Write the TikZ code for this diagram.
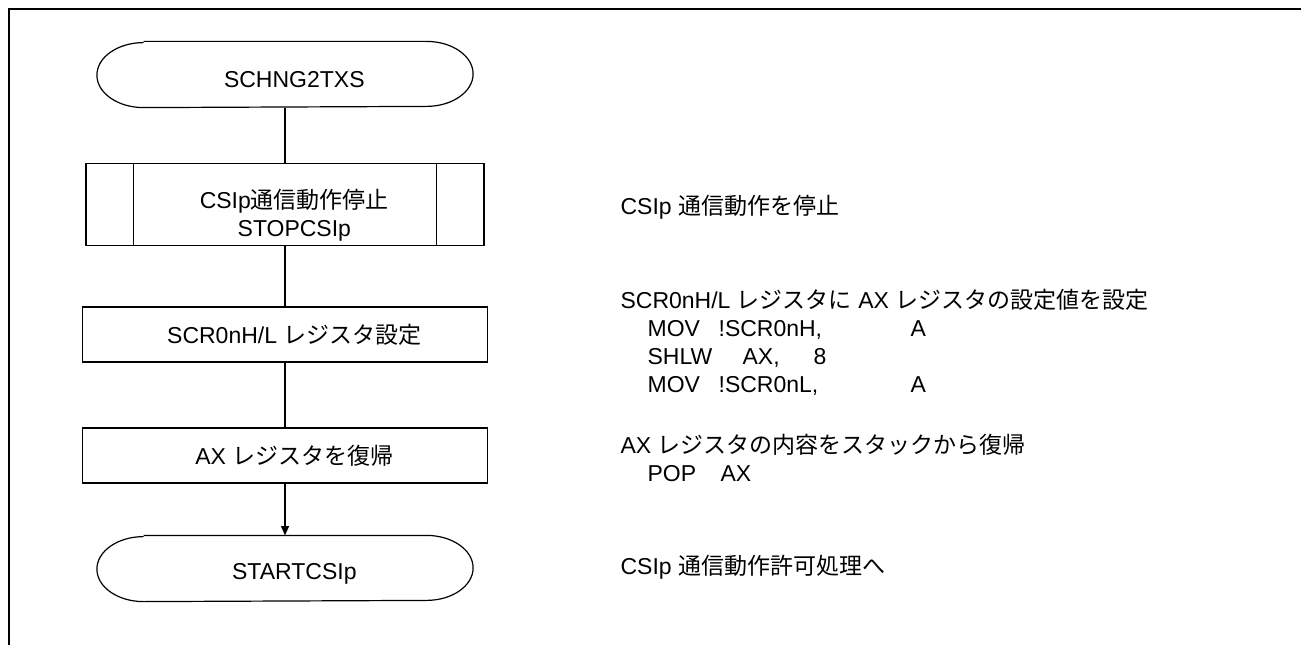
\documentclass[tikz,border=0pt]{standalone}
\usepackage{fontspec}
\setmainfont{Liberation Sans}
\newfontfamily\jpfont{Noto Sans CJK JP}
\newcommand\ja[1]{{\jpfont #1}}
\newcommand\txtshift{\hspace*{14pt}}
\newcommand\tabcol[2]{\makebox[#1][l]{#2}}
\usetikzlibrary{arrows.meta}

\begin{document}
\begin{tikzpicture}[
        x=0.75pt, y=-0.75pt,
        font=\fontsize{17.25}{21}\selectfont,
        line width=0.9pt,
        terminal/.style={minimum width=281.25pt, minimum height=48.75pt, align=center},
        process/.style={draw, minimum width=303.75pt, minimum height=41.25pt, align=center},
        subproc/.style={draw, minimum width=298.5pt, minimum height=60.75pt, align=center},
        comment/.style={anchor=west, align=left, inner sep=0pt},
        flow/.style={draw},
        frame/.style={draw, line width=1.5pt}
    ]
    \useasboundingbox (0,0) rectangle (1301,645);
    \draw[frame] (1301,9) -- (9,9) -- (9,645);

    % flow chart
    \node[terminal] (start) at (285,74.5) {\txtshift\rule{0pt}{20pt}SCHNG2TXS};
    \node[subproc] (stopcsi) at (285,204.5) {\txtshift\rule{0pt}{30pt}CSIp\ja{通信動作停止}\\ \txtshift STOPCSIp};
    \node[process] (setreg) at (285,334.5) {\txtshift SCR0nH/L \ja{レジスタ設定}};
    \node[process] (restore) at (285,455.5) {\txtshift AX \ja{レジスタを復帰}};
    \node[terminal] (stop) at (285,568.5) {\txtshift\rule{0pt}{20pt}STARTCSIp};

    \foreach \t in {start,stop}
        \draw ([xshift=35pt]\t.north west) -- ([xshift=-35pt]\t.north east)
            arc[start angle=90, end angle=-90, x radius=35pt, y radius=24.375pt]
            -- ([xshift=35pt]\t.south west)
            arc[start angle=270, end angle=90, x radius=35pt, y radius=24.375pt];
    \draw ([xshift=36pt]stopcsi.north west) -- ([xshift=36pt]stopcsi.south west)
          ([xshift=-36pt]stopcsi.north east) -- ([xshift=-36pt]stopcsi.south east);

    \draw[flow] (start) -- (stopcsi);
    \draw[flow] (stopcsi) -- (setreg);
    \draw[flow] (setreg) -- (restore);
    \draw[flow, -{Triangle[length=7pt, width=6pt]}] (restore) -- (stop);

    % comments
    \node[comment] (c1) at (620,207) {CSIp \ja{通信動作を停止}};
    \node[comment] (c2) at (620,342) {SCR0nH/L \ja{レジスタに} AX \ja{レジスタの設定値を設定}\\
        \hspace*{20.25pt}\tabcol{53.25pt}{MOV}\tabcol{144pt}{!SCR0nH,}A\\
        \hspace*{20.25pt}\tabcol{71.25pt}{SHLW}\tabcol{53.25pt}{AX,}8\\
        \hspace*{20.25pt}\tabcol{53.25pt}{MOV}\tabcol{144pt}{!SCR0nL,}A};
    \node[comment] (c3) at (620,457.5) {AX \ja{レジスタの内容をスタックから復帰}\\
        \hspace*{20.25pt}\tabcol{54.75pt}{POP}AX};
    \node[comment] (c4) at (620,567) {CSIp \ja{通信動作許可処理へ}};
\end{tikzpicture}
\end{document}
